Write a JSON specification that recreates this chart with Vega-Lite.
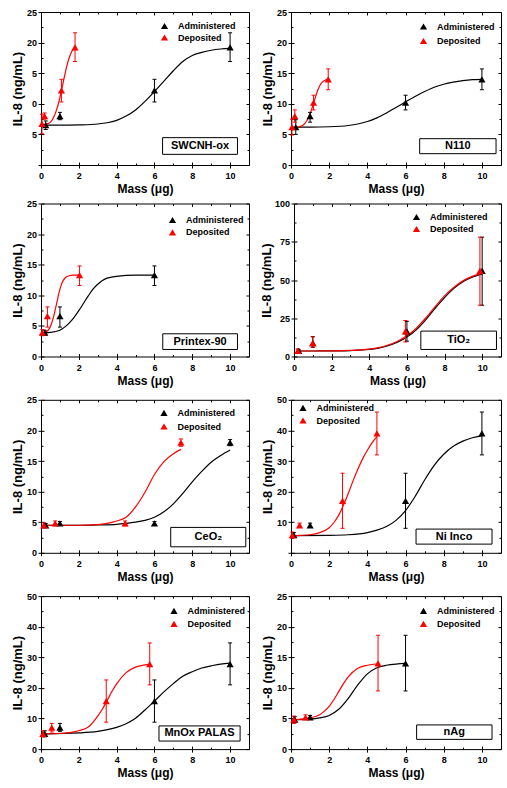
{
"$schema": "https://vega.github.io/schema/vega-lite/v6.json",
"padding": {"left": 10, "top": 7, "right": 0, "bottom": 0},
"datasets": {
"panels": [
{"panel":"SWCNH-ox","label":"SWCNH-ox"},{"panel":"N110","label":"N110"},{"panel":"Printex-90","label":"Printex-90"},{"panel":"TiO2","label":"TiO₂"},
{"panel":"CeO2","label":"CeO₂"},{"panel":"Ni Inco","label":"Ni Inco"},{"panel":"MnOx PALAS","label":"MnOx PALAS"},{"panel":"nAg","label":"nAg"}
],
"points": [
{"panel":"SWCNH-ox","series":"Administered","x":0.25,"y":6.5,"lo":5.8,"hi":7.2},
{"panel":"SWCNH-ox","series":"Administered","x":1,"y":8.0,"lo":7.4,"hi":8.6},
{"panel":"SWCNH-ox","series":"Administered","x":6,"y":12.2,"lo":10.3,"hi":14.0},
{"panel":"SWCNH-ox","series":"Administered","x":10,"y":19.2,"lo":16.9,"hi":21.6},
{"panel":"SWCNH-ox","series":"Deposited","x":0.05,"y":6.7,"lo":5.1,"hi":8.3},
{"panel":"SWCNH-ox","series":"Deposited","x":0.19,"y":8.0,"lo":7.5,"hi":8.5},
{"panel":"SWCNH-ox","series":"Deposited","x":1.08,"y":12.2,"lo":10.3,"hi":14.0},
{"panel":"SWCNH-ox","series":"Deposited","x":1.8,"y":19.2,"lo":16.9,"hi":21.6},
{"panel":"N110","series":"Administered","x":0.25,"y":6.2,"lo":5.0,"hi":7.4},
{"panel":"N110","series":"Administered","x":1,"y":8.0,"lo":7.0,"hi":8.6},
{"panel":"N110","series":"Administered","x":6,"y":10.2,"lo":9.0,"hi":11.4},
{"panel":"N110","series":"Administered","x":10,"y":14.0,"lo":12.3,"hi":15.7},
{"panel":"N110","series":"Deposited","x":0.05,"y":6.2,"lo":4.9,"hi":7.5},
{"panel":"N110","series":"Deposited","x":0.2,"y":8.0,"lo":7.0,"hi":9.0},
{"panel":"N110","series":"Deposited","x":1.18,"y":10.2,"lo":9.0,"hi":11.4},
{"panel":"N110","series":"Deposited","x":1.95,"y":14.0,"lo":12.3,"hi":15.7},
{"panel":"Printex-90","series":"Administered","x":0.2,"y":3.9,"lo":3.5,"hi":4.3},
{"panel":"Printex-90","series":"Administered","x":1,"y":6.6,"lo":4.8,"hi":8.1},
{"panel":"Printex-90","series":"Administered","x":6,"y":13.3,"lo":11.6,"hi":14.8},
{"panel":"Printex-90","series":"Deposited","x":0.07,"y":3.9,"lo":3.4,"hi":4.4},
{"panel":"Printex-90","series":"Deposited","x":0.34,"y":6.6,"lo":4.8,"hi":8.1},
{"panel":"Printex-90","series":"Deposited","x":2.04,"y":13.3,"lo":11.6,"hi":14.8},
{"panel":"TiO2","series":"Administered","x":0.25,"y":3.6,"lo":2.6,"hi":4.6},
{"panel":"TiO2","series":"Administered","x":1,"y":8.7,"lo":6,"hi":13},
{"panel":"TiO2","series":"Administered","x":6,"y":16.5,"lo":10,"hi":23},
{"panel":"TiO2","series":"Administered","x":10,"y":56,"lo":33.5,"hi":78},
{"panel":"TiO2","series":"Deposited","x":0.2,"y":3.6,"lo":2.2,"hi":5.0},
{"panel":"TiO2","series":"Deposited","x":1,"y":8.7,"lo":6,"hi":12.8},
{"panel":"TiO2","series":"Deposited","x":5.92,"y":16.5,"lo":9.5,"hi":23.5},
{"panel":"TiO2","series":"Deposited","x":9.88,"y":56,"lo":33.5,"hi":78},
{"panel":"CeO2","series":"Administered","x":0.25,"y":4.5,"lo":4.2,"hi":4.8},
{"panel":"CeO2","series":"Administered","x":1,"y":4.8,"lo":4.5,"hi":5.1},
{"panel":"CeO2","series":"Administered","x":6,"y":4.8,"lo":4.5,"hi":5.1},
{"panel":"CeO2","series":"Administered","x":10,"y":18.0,"lo":17.5,"hi":18.5},
{"panel":"CeO2","series":"Deposited","x":0.15,"y":4.5,"lo":4.1,"hi":4.9},
{"panel":"CeO2","series":"Deposited","x":0.75,"y":4.8,"lo":4.4,"hi":5.2},
{"panel":"CeO2","series":"Deposited","x":4.45,"y":4.8,"lo":4.4,"hi":5.2},
{"panel":"CeO2","series":"Deposited","x":7.4,"y":18.0,"lo":17.4,"hi":18.6},
{"panel":"Ni Inco","series":"Administered","x":0.15,"y":5.8,"lo":5.0,"hi":6.6},
{"panel":"Ni Inco","series":"Administered","x":1,"y":9.0,"lo":8.3,"hi":9.7},
{"panel":"Ni Inco","series":"Administered","x":6,"y":17,"lo":8,"hi":26},
{"panel":"Ni Inco","series":"Administered","x":10,"y":39,"lo":32,"hi":46},
{"panel":"Ni Inco","series":"Deposited","x":0.07,"y":5.8,"lo":4.8,"hi":6.8},
{"panel":"Ni Inco","series":"Deposited","x":0.45,"y":9.0,"lo":8.3,"hi":9.7},
{"panel":"Ni Inco","series":"Deposited","x":2.7,"y":17,"lo":8,"hi":26},
{"panel":"Ni Inco","series":"Deposited","x":4.5,"y":39,"lo":32,"hi":46},
{"panel":"MnOx PALAS","series":"Administered","x":0.2,"y":5.0,"lo":4.0,"hi":6.0},
{"panel":"MnOx PALAS","series":"Administered","x":1,"y":7.0,"lo":5.8,"hi":8.4},
{"panel":"MnOx PALAS","series":"Administered","x":6,"y":15.7,"lo":8.8,"hi":22.6},
{"panel":"MnOx PALAS","series":"Administered","x":10,"y":27.8,"lo":21,"hi":34.7},
{"panel":"MnOx PALAS","series":"Deposited","x":0.1,"y":5.0,"lo":4.0,"hi":6.0},
{"panel":"MnOx PALAS","series":"Deposited","x":0.57,"y":7.0,"lo":5.6,"hi":8.4},
{"panel":"MnOx PALAS","series":"Deposited","x":3.45,"y":15.7,"lo":8.8,"hi":22.6},
{"panel":"MnOx PALAS","series":"Deposited","x":5.75,"y":27.8,"lo":21,"hi":34.7},
{"panel":"nAg","series":"Administered","x":0.2,"y":4.8,"lo":4.3,"hi":5.3},
{"panel":"nAg","series":"Administered","x":1,"y":5.2,"lo":4.9,"hi":5.5},
{"panel":"nAg","series":"Administered","x":6,"y":14.0,"lo":9.5,"hi":18.6},
{"panel":"nAg","series":"Deposited","x":0.15,"y":4.8,"lo":4.2,"hi":5.4},
{"panel":"nAg","series":"Deposited","x":0.76,"y":5.2,"lo":4.8,"hi":5.6},
{"panel":"nAg","series":"Deposited","x":4.56,"y":14.0,"lo":9.5,"hi":18.6}
],
"curves": [
{"panel":"SWCNH-ox","series":"Administered","x":0.25,"y":6.5},{"panel":"SWCNH-ox","series":"Administered","x":1,"y":6.5},{"panel":"SWCNH-ox","series":"Administered","x":2,"y":6.55},{"panel":"SWCNH-ox","series":"Administered","x":3,"y":6.7},{"panel":"SWCNH-ox","series":"Administered","x":3.5,"y":6.9},{"panel":"SWCNH-ox","series":"Administered","x":4,"y":7.3},{"panel":"SWCNH-ox","series":"Administered","x":4.5,"y":8.0},{"panel":"SWCNH-ox","series":"Administered","x":5,"y":9.0},{"panel":"SWCNH-ox","series":"Administered","x":5.5,"y":10.4},{"panel":"SWCNH-ox","series":"Administered","x":6,"y":12.0},{"panel":"SWCNH-ox","series":"Administered","x":6.5,"y":13.7},{"panel":"SWCNH-ox","series":"Administered","x":7,"y":15.4},{"panel":"SWCNH-ox","series":"Administered","x":7.5,"y":16.9},{"panel":"SWCNH-ox","series":"Administered","x":8,"y":17.9},{"panel":"SWCNH-ox","series":"Administered","x":8.5,"y":18.4},{"panel":"SWCNH-ox","series":"Administered","x":9,"y":18.75},{"panel":"SWCNH-ox","series":"Administered","x":9.5,"y":18.95},{"panel":"SWCNH-ox","series":"Administered","x":10,"y":19.05},
{"panel":"SWCNH-ox","series":"Deposited","x":0.05,"y":6.6},{"panel":"SWCNH-ox","series":"Deposited","x":0.3,"y":6.7},{"panel":"SWCNH-ox","series":"Deposited","x":0.5,"y":7.0},{"panel":"SWCNH-ox","series":"Deposited","x":0.6,"y":7.4},{"panel":"SWCNH-ox","series":"Deposited","x":0.7,"y":8.0},{"panel":"SWCNH-ox","series":"Deposited","x":0.8,"y":8.8},{"panel":"SWCNH-ox","series":"Deposited","x":0.9,"y":9.8},{"panel":"SWCNH-ox","series":"Deposited","x":1.0,"y":11.0},{"panel":"SWCNH-ox","series":"Deposited","x":1.1,"y":12.4},{"panel":"SWCNH-ox","series":"Deposited","x":1.2,"y":13.9},{"panel":"SWCNH-ox","series":"Deposited","x":1.3,"y":15.3},{"panel":"SWCNH-ox","series":"Deposited","x":1.4,"y":16.6},{"panel":"SWCNH-ox","series":"Deposited","x":1.5,"y":17.6},{"panel":"SWCNH-ox","series":"Deposited","x":1.6,"y":18.4},{"panel":"SWCNH-ox","series":"Deposited","x":1.7,"y":18.9},{"panel":"SWCNH-ox","series":"Deposited","x":1.8,"y":19.3},
{"panel":"N110","series":"Administered","x":0.25,"y":6.2},{"panel":"N110","series":"Administered","x":1,"y":6.2},{"panel":"N110","series":"Administered","x":2,"y":6.25},{"panel":"N110","series":"Administered","x":3,"y":6.45},{"panel":"N110","series":"Administered","x":3.5,"y":6.7},{"panel":"N110","series":"Administered","x":4,"y":7.1},{"panel":"N110","series":"Administered","x":4.5,"y":7.7},{"panel":"N110","series":"Administered","x":5,"y":8.5},{"panel":"N110","series":"Administered","x":5.5,"y":9.4},{"panel":"N110","series":"Administered","x":6,"y":10.3},{"panel":"N110","series":"Administered","x":6.5,"y":11.2},{"panel":"N110","series":"Administered","x":7,"y":12.0},{"panel":"N110","series":"Administered","x":7.5,"y":12.7},{"panel":"N110","series":"Administered","x":8,"y":13.2},{"panel":"N110","series":"Administered","x":8.5,"y":13.55},{"panel":"N110","series":"Administered","x":9,"y":13.8},{"panel":"N110","series":"Administered","x":9.5,"y":13.95},{"panel":"N110","series":"Administered","x":10,"y":14.0},
{"panel":"N110","series":"Deposited","x":0.05,"y":6.2},{"panel":"N110","series":"Deposited","x":0.3,"y":6.2},{"panel":"N110","series":"Deposited","x":0.5,"y":6.3},{"panel":"N110","series":"Deposited","x":0.7,"y":6.7},{"panel":"N110","series":"Deposited","x":0.8,"y":7.1},{"panel":"N110","series":"Deposited","x":0.9,"y":7.7},{"panel":"N110","series":"Deposited","x":1.0,"y":8.4},{"panel":"N110","series":"Deposited","x":1.1,"y":9.3},{"panel":"N110","series":"Deposited","x":1.2,"y":10.3},{"panel":"N110","series":"Deposited","x":1.3,"y":11.3},{"panel":"N110","series":"Deposited","x":1.4,"y":12.2},{"panel":"N110","series":"Deposited","x":1.5,"y":12.9},{"panel":"N110","series":"Deposited","x":1.6,"y":13.4},{"panel":"N110","series":"Deposited","x":1.7,"y":13.7},{"panel":"N110","series":"Deposited","x":1.8,"y":13.9},{"panel":"N110","series":"Deposited","x":1.95,"y":14.0},
{"panel":"Printex-90","series":"Administered","x":0.2,"y":3.9},{"panel":"Printex-90","series":"Administered","x":0.5,"y":3.95},{"panel":"Printex-90","series":"Administered","x":1.0,"y":4.3},{"panel":"Printex-90","series":"Administered","x":1.25,"y":4.8},{"panel":"Printex-90","series":"Administered","x":1.5,"y":5.5},{"panel":"Printex-90","series":"Administered","x":1.75,"y":6.4},{"panel":"Printex-90","series":"Administered","x":2.0,"y":7.5},{"panel":"Printex-90","series":"Administered","x":2.25,"y":8.7},{"panel":"Printex-90","series":"Administered","x":2.5,"y":9.9},{"panel":"Printex-90","series":"Administered","x":2.75,"y":11.0},{"panel":"Printex-90","series":"Administered","x":3.0,"y":11.8},{"panel":"Printex-90","series":"Administered","x":3.25,"y":12.4},{"panel":"Printex-90","series":"Administered","x":3.5,"y":12.8},{"panel":"Printex-90","series":"Administered","x":4.0,"y":13.1},{"panel":"Printex-90","series":"Administered","x":4.5,"y":13.25},{"panel":"Printex-90","series":"Administered","x":5,"y":13.3},{"panel":"Printex-90","series":"Administered","x":6,"y":13.3},
{"panel":"Printex-90","series":"Deposited","x":0.07,"y":3.9},{"panel":"Printex-90","series":"Deposited","x":0.3,"y":4.1},{"panel":"Printex-90","series":"Deposited","x":0.45,"y":4.6},{"panel":"Printex-90","series":"Deposited","x":0.55,"y":5.3},{"panel":"Printex-90","series":"Deposited","x":0.65,"y":6.3},{"panel":"Printex-90","series":"Deposited","x":0.75,"y":7.6},{"panel":"Printex-90","series":"Deposited","x":0.85,"y":9.0},{"panel":"Printex-90","series":"Deposited","x":0.95,"y":10.4},{"panel":"Printex-90","series":"Deposited","x":1.05,"y":11.5},{"panel":"Printex-90","series":"Deposited","x":1.15,"y":12.3},{"panel":"Printex-90","series":"Deposited","x":1.3,"y":12.9},{"panel":"Printex-90","series":"Deposited","x":1.5,"y":13.2},{"panel":"Printex-90","series":"Deposited","x":1.75,"y":13.3},{"panel":"Printex-90","series":"Deposited","x":2.04,"y":13.35},
{"panel":"TiO2","series":"Administered","x":0.2,"y":3.6},{"panel":"TiO2","series":"Administered","x":1,"y":3.6},{"panel":"TiO2","series":"Administered","x":2,"y":3.7},{"panel":"TiO2","series":"Administered","x":3,"y":3.9},{"panel":"TiO2","series":"Administered","x":4,"y":4.6},{"panel":"TiO2","series":"Administered","x":4.5,"y":5.5},{"panel":"TiO2","series":"Administered","x":5,"y":7.0},{"panel":"TiO2","series":"Administered","x":5.5,"y":9.3},{"panel":"TiO2","series":"Administered","x":6,"y":12.7},{"panel":"TiO2","series":"Administered","x":6.5,"y":17.5},{"panel":"TiO2","series":"Administered","x":7,"y":24.0},{"panel":"TiO2","series":"Administered","x":7.5,"y":31.5},{"panel":"TiO2","series":"Administered","x":8,"y":38.5},{"panel":"TiO2","series":"Administered","x":8.5,"y":44.5},{"panel":"TiO2","series":"Administered","x":9,"y":49.0},{"panel":"TiO2","series":"Administered","x":9.5,"y":52.0},{"panel":"TiO2","series":"Administered","x":10,"y":54.0},
{"panel":"TiO2","series":"Deposited","x":0.1,"y":3.6},{"panel":"TiO2","series":"Deposited","x":1,"y":3.6},{"panel":"TiO2","series":"Deposited","x":2,"y":3.7},{"panel":"TiO2","series":"Deposited","x":3,"y":3.95},{"panel":"TiO2","series":"Deposited","x":4,"y":4.8},{"panel":"TiO2","series":"Deposited","x":4.5,"y":5.8},{"panel":"TiO2","series":"Deposited","x":5,"y":7.5},{"panel":"TiO2","series":"Deposited","x":5.5,"y":10.0},{"panel":"TiO2","series":"Deposited","x":6,"y":13.5},{"panel":"TiO2","series":"Deposited","x":6.5,"y":18.5},{"panel":"TiO2","series":"Deposited","x":7,"y":25.2},{"panel":"TiO2","series":"Deposited","x":7.5,"y":32.6},{"panel":"TiO2","series":"Deposited","x":8,"y":39.6},{"panel":"TiO2","series":"Deposited","x":8.5,"y":45.3},{"panel":"TiO2","series":"Deposited","x":9,"y":49.6},{"panel":"TiO2","series":"Deposited","x":9.5,"y":52.5},{"panel":"TiO2","series":"Deposited","x":9.9,"y":54.2},
{"panel":"CeO2","series":"Administered","x":0.2,"y":4.5},{"panel":"CeO2","series":"Administered","x":2,"y":4.5},{"panel":"CeO2","series":"Administered","x":3,"y":4.55},{"panel":"CeO2","series":"Administered","x":4,"y":4.65},{"panel":"CeO2","series":"Administered","x":4.5,"y":4.8},{"panel":"CeO2","series":"Administered","x":5,"y":5.0},{"panel":"CeO2","series":"Administered","x":5.5,"y":5.3},{"panel":"CeO2","series":"Administered","x":6,"y":5.8},{"panel":"CeO2","series":"Administered","x":6.5,"y":6.7},{"panel":"CeO2","series":"Administered","x":7,"y":8.0},{"panel":"CeO2","series":"Administered","x":7.5,"y":9.7},{"panel":"CeO2","series":"Administered","x":8,"y":11.6},{"panel":"CeO2","series":"Administered","x":8.5,"y":13.3},{"panel":"CeO2","series":"Administered","x":9,"y":14.8},{"panel":"CeO2","series":"Administered","x":9.5,"y":15.9},{"panel":"CeO2","series":"Administered","x":10,"y":16.8},
{"panel":"CeO2","series":"Deposited","x":0.1,"y":4.5},{"panel":"CeO2","series":"Deposited","x":2,"y":4.5},{"panel":"CeO2","series":"Deposited","x":3,"y":4.6},{"panel":"CeO2","series":"Deposited","x":3.5,"y":4.8},{"panel":"CeO2","series":"Deposited","x":4,"y":5.2},{"panel":"CeO2","series":"Deposited","x":4.5,"y":5.8},{"panel":"CeO2","series":"Deposited","x":5,"y":7.5},{"panel":"CeO2","series":"Deposited","x":5.5,"y":9.9},{"panel":"CeO2","series":"Deposited","x":6,"y":12.8},{"panel":"CeO2","series":"Deposited","x":6.5,"y":14.9},{"panel":"CeO2","series":"Deposited","x":7,"y":16.2},{"panel":"CeO2","series":"Deposited","x":7.4,"y":16.9},
{"panel":"Ni Inco","series":"Administered","x":0.15,"y":5.6},{"panel":"Ni Inco","series":"Administered","x":2,"y":5.7},{"panel":"Ni Inco","series":"Administered","x":3,"y":5.9},{"panel":"Ni Inco","series":"Administered","x":4,"y":6.6},{"panel":"Ni Inco","series":"Administered","x":4.5,"y":7.4},{"panel":"Ni Inco","series":"Administered","x":5,"y":8.6},{"panel":"Ni Inco","series":"Administered","x":5.5,"y":10.6},{"panel":"Ni Inco","series":"Administered","x":6,"y":13.8},{"panel":"Ni Inco","series":"Administered","x":6.5,"y":18.4},{"panel":"Ni Inco","series":"Administered","x":7,"y":23.8},{"panel":"Ni Inco","series":"Administered","x":7.5,"y":28.6},{"panel":"Ni Inco","series":"Administered","x":8,"y":32.2},{"panel":"Ni Inco","series":"Administered","x":8.5,"y":34.8},{"panel":"Ni Inco","series":"Administered","x":9,"y":36.5},{"panel":"Ni Inco","series":"Administered","x":9.5,"y":37.6},{"panel":"Ni Inco","series":"Administered","x":10,"y":38.3},
{"panel":"Ni Inco","series":"Deposited","x":0.07,"y":5.6},{"panel":"Ni Inco","series":"Deposited","x":0.5,"y":5.7},{"panel":"Ni Inco","series":"Deposited","x":1.0,"y":5.9},{"panel":"Ni Inco","series":"Deposited","x":1.5,"y":6.6},{"panel":"Ni Inco","series":"Deposited","x":2.0,"y":8.2},{"panel":"Ni Inco","series":"Deposited","x":2.25,"y":9.9},{"panel":"Ni Inco","series":"Deposited","x":2.5,"y":12.3},{"panel":"Ni Inco","series":"Deposited","x":2.75,"y":15.6},{"panel":"Ni Inco","series":"Deposited","x":3.0,"y":19.4},{"panel":"Ni Inco","series":"Deposited","x":3.25,"y":23.5},{"panel":"Ni Inco","series":"Deposited","x":3.5,"y":27.3},{"panel":"Ni Inco","series":"Deposited","x":3.75,"y":30.7},{"panel":"Ni Inco","series":"Deposited","x":4.0,"y":33.5},{"panel":"Ni Inco","series":"Deposited","x":4.25,"y":36.0},{"panel":"Ni Inco","series":"Deposited","x":4.5,"y":38.0},
{"panel":"MnOx PALAS","series":"Administered","x":0.2,"y":5.0},{"panel":"MnOx PALAS","series":"Administered","x":2,"y":5.3},{"panel":"MnOx PALAS","series":"Administered","x":3,"y":5.8},{"panel":"MnOx PALAS","series":"Administered","x":4,"y":7.1},{"panel":"MnOx PALAS","series":"Administered","x":4.5,"y":8.3},{"panel":"MnOx PALAS","series":"Administered","x":5,"y":10.1},{"panel":"MnOx PALAS","series":"Administered","x":5.5,"y":12.8},{"panel":"MnOx PALAS","series":"Administered","x":6,"y":15.7},{"panel":"MnOx PALAS","series":"Administered","x":6.5,"y":18.7},{"panel":"MnOx PALAS","series":"Administered","x":7,"y":21.4},{"panel":"MnOx PALAS","series":"Administered","x":7.5,"y":23.8},{"panel":"MnOx PALAS","series":"Administered","x":8,"y":25.3},{"panel":"MnOx PALAS","series":"Administered","x":8.5,"y":26.5},{"panel":"MnOx PALAS","series":"Administered","x":9,"y":27.2},{"panel":"MnOx PALAS","series":"Administered","x":9.5,"y":27.8},{"panel":"MnOx PALAS","series":"Administered","x":10,"y":28.1},
{"panel":"MnOx PALAS","series":"Deposited","x":0.1,"y":5.0},{"panel":"MnOx PALAS","series":"Deposited","x":1,"y":5.1},{"panel":"MnOx PALAS","series":"Deposited","x":2,"y":6.0},{"panel":"MnOx PALAS","series":"Deposited","x":2.5,"y":7.2},{"panel":"MnOx PALAS","series":"Deposited","x":3,"y":10.8},{"panel":"MnOx PALAS","series":"Deposited","x":3.25,"y":13.1},{"panel":"MnOx PALAS","series":"Deposited","x":3.5,"y":15.9},{"panel":"MnOx PALAS","series":"Deposited","x":3.75,"y":18.8},{"panel":"MnOx PALAS","series":"Deposited","x":4,"y":21.3},{"panel":"MnOx PALAS","series":"Deposited","x":4.5,"y":25.0},{"panel":"MnOx PALAS","series":"Deposited","x":5,"y":26.8},{"panel":"MnOx PALAS","series":"Deposited","x":5.5,"y":27.5},{"panel":"MnOx PALAS","series":"Deposited","x":5.75,"y":27.7},
{"panel":"nAg","series":"Administered","x":0.2,"y":4.8},{"panel":"nAg","series":"Administered","x":1,"y":4.9},{"panel":"nAg","series":"Administered","x":1.5,"y":5.1},{"panel":"nAg","series":"Administered","x":2,"y":5.5},{"panel":"nAg","series":"Administered","x":2.5,"y":6.5},{"panel":"nAg","series":"Administered","x":3,"y":8.3},{"panel":"nAg","series":"Administered","x":3.5,"y":10.5},{"panel":"nAg","series":"Administered","x":4,"y":12.3},{"panel":"nAg","series":"Administered","x":4.5,"y":13.3},{"panel":"nAg","series":"Administered","x":5,"y":13.7},{"panel":"nAg","series":"Administered","x":5.5,"y":13.9},{"panel":"nAg","series":"Administered","x":6,"y":14.0},
{"panel":"nAg","series":"Deposited","x":0.15,"y":4.8},{"panel":"nAg","series":"Deposited","x":1,"y":5.1},{"panel":"nAg","series":"Deposited","x":1.5,"y":5.6},{"panel":"nAg","series":"Deposited","x":1.75,"y":6.2},{"panel":"nAg","series":"Deposited","x":2,"y":7.0},{"panel":"nAg","series":"Deposited","x":2.25,"y":8.1},{"panel":"nAg","series":"Deposited","x":2.5,"y":9.4},{"panel":"nAg","series":"Deposited","x":2.75,"y":10.7},{"panel":"nAg","series":"Deposited","x":3,"y":11.8},{"panel":"nAg","series":"Deposited","x":3.5,"y":13.2},{"panel":"nAg","series":"Deposited","x":4,"y":13.7},{"panel":"nAg","series":"Deposited","x":4.56,"y":13.95}
]
},
"spacing": 3.5,
"resolve": {"scale": {"color": "independent", "stroke": "independent", "x": "independent", "y": "independent"}, "legend": {"color": "independent"}, "axis": {"x": "independent", "y": "independent"}},
"vconcat": [
{"hconcat": [
{"width": 208, "height": 153, "resolve": {"axis": {"x": "independent", "y": "independent"}}, "layer": [
{"data": {"name": "curves"}, "transform": [{"filter": "datum.panel === 'SWCNH-ox'"}], "mark": {"type": "line", "interpolate": "monotone", "strokeWidth": 1.2},
 "encoding": {"x": {"field": "x", "type": "quantitative", "scale": {"domain": [0, 11], "nice": false}, "axis": {"orient": "bottom", "title": "Mass (μg)", "labels": true, "values": [0,2,4,6,8,10], "tickSize": 3, "minExtent": 15.5, "maxExtent": 15.5, "titlePadding": 3}},
  "y": {"field": "y", "type": "quantitative", "scale": {"domain": [0, 25], "nice": false}, "axis": {"orient": "left", "title": "IL-8 (ng/mL)", "labels": true, "values": [0,5,10,15,20,25], "tickSize": 3, "minExtent": 14.5, "maxExtent": 14.5, "titlePadding": 2.5, "labelExpr": "datum.value == 15 ? '5' : datum.value == 10 ? '0' : datum.value == 0 ? '' : datum.label"}},
  "stroke": {"field": "series", "type": "nominal", "scale": {"range": ["#000000", "#ff0000"]}, "legend": null}}},
{"data": {"name": "points"}, "transform": [{"filter": "datum.panel === 'SWCNH-ox'"}], "mark": {"type": "rule", "strokeWidth": 1},
 "encoding": {"x": {"field": "x", "type": "quantitative", "scale": {"domain": [0, 11], "nice": false}, "axis": {"orient": "bottom", "title": null, "values": [0,2,4,6,8,10], "tickSize": -3}},
  "y": {"field": "lo", "type": "quantitative", "scale": {"domain": [0, 25], "nice": false}, "axis": {"orient": "left", "title": null, "values": [0,5,10,15,20,25], "tickSize": -3}},
  "y2": {"field": "hi"},
  "stroke": {"field": "series", "type": "nominal", "scale": {"range": ["#000000", "#ff0000"]}, "legend": null}}},
{"data": {"name": "points"}, "transform": [{"filter": "datum.panel === 'SWCNH-ox'"}, {"fold": ["lo", "hi"], "as": ["end", "v"]}], "mark": {"type": "point", "shape": "M-1,0L1,0", "size": 16, "filled": false, "opacity": 1, "strokeWidth": 1},
 "encoding": {"x": {"field": "x", "type": "quantitative", "scale": {"domain": [0, 11], "nice": false}, "axis": {"orient": "bottom", "title": null, "values": [1,3,5,7,9], "tickSize": -2}},
  "y": {"field": "v", "type": "quantitative", "scale": {"domain": [0, 25], "nice": false}, "axis": {"orient": "left", "title": null, "values": [2.5,7.5,12.5,17.5,22.5], "tickSize": -2}},
  "stroke": {"field": "series", "type": "nominal", "scale": {"range": ["#000000", "#ff0000"]}, "legend": null}}},
{"data": {"name": "points"}, "transform": [{"filter": "datum.panel === 'SWCNH-ox'"}], "mark": {"type": "point", "shape": "triangle-up", "filled": true, "size": 52, "opacity": 1},
 "encoding": {"x": {"field": "x", "type": "quantitative", "scale": {"domain": [0, 11], "nice": false}, "axis": {"orient": "top", "title": null, "values": [0,2,4,6,8,10], "tickSize": -3}},
  "y": {"field": "y", "type": "quantitative", "scale": {"domain": [0, 25], "nice": false}, "axis": {"orient": "right", "title": null, "values": [0,5,10,15,20,25], "tickSize": -3}},
  "color": {"field": "series", "type": "nominal", "scale": {"domain": ["Administered", "Deposited"], "range": ["#000000", "#ff0000"]}, "legend": {"orient": "none", "legendX": 119, "legendY": 9.5, "title": null, "rowPadding": 1.5}}}},
{"data": {"name": "panels"}, "transform": [{"filter": "datum.panel === 'SWCNH-ox'"}], "mark": {"type": "rect", "fill": "#ffffff", "stroke": "#000000", "strokeWidth": 1},
 "encoding": {"x": {"datum": 6.43, "type": "quantitative", "scale": {"domain": [0, 11], "nice": false}, "axis": {"orient": "top", "title": null, "values": [1,3,5,7,9], "tickSize": -2}}, "x2": {"datum": 10.39},
  "y": {"datum": 4.47, "type": "quantitative", "scale": {"domain": [0, 25], "nice": false}, "axis": {"orient": "right", "title": null, "values": [2.5,7.5,12.5,17.5,22.5], "tickSize": -2}}, "y2": {"datum": 1.74}}},
{"data": {"name": "panels"}, "transform": [{"filter": "datum.panel === 'SWCNH-ox'"}], "mark": {"type": "text", "font": "Liberation Sans", "fontSize": 11, "fontWeight": "bold", "color": "#000000", "align": "center", "baseline": "middle"},
 "encoding": {"x": {"datum": 8.41, "type": "quantitative", "scale": {"domain": [0, 11], "nice": false}, "axis": null}, "y": {"datum": 3.1, "type": "quantitative", "scale": {"domain": [0, 25], "nice": false}, "axis": null}, "text": {"field": "label"}}}
]},
{"width": 210, "height": 153, "resolve": {"axis": {"x": "independent", "y": "independent"}}, "layer": [
{"data": {"name": "curves"}, "transform": [{"filter": "datum.panel === 'N110'"}], "mark": {"type": "line", "interpolate": "monotone", "strokeWidth": 1.2},
 "encoding": {"x": {"field": "x", "type": "quantitative", "scale": {"domain": [0, 11], "nice": false}, "axis": {"orient": "bottom", "title": "Mass (μg)", "labels": true, "values": [0,2,4,6,8,10], "tickSize": 3, "minExtent": 15.5, "maxExtent": 15.5, "titlePadding": 3}},
  "y": {"field": "y", "type": "quantitative", "scale": {"domain": [0, 25], "nice": false}, "axis": {"orient": "left", "title": "IL-8 (ng/mL)", "labels": true, "values": [0,5,10,15,20,25], "tickSize": 3, "minExtent": 14.5, "maxExtent": 14.5, "titlePadding": 2.5}},
  "stroke": {"field": "series", "type": "nominal", "scale": {"range": ["#000000", "#ff0000"]}, "legend": null}}},
{"data": {"name": "points"}, "transform": [{"filter": "datum.panel === 'N110'"}], "mark": {"type": "rule", "strokeWidth": 1},
 "encoding": {"x": {"field": "x", "type": "quantitative", "scale": {"domain": [0, 11], "nice": false}, "axis": {"orient": "bottom", "title": null, "values": [0,2,4,6,8,10], "tickSize": -3}},
  "y": {"field": "lo", "type": "quantitative", "scale": {"domain": [0, 25], "nice": false}, "axis": {"orient": "left", "title": null, "values": [0,5,10,15,20,25], "tickSize": -3}},
  "y2": {"field": "hi"},
  "stroke": {"field": "series", "type": "nominal", "scale": {"range": ["#000000", "#ff0000"]}, "legend": null}}},
{"data": {"name": "points"}, "transform": [{"filter": "datum.panel === 'N110'"}, {"fold": ["lo", "hi"], "as": ["end", "v"]}], "mark": {"type": "point", "shape": "M-1,0L1,0", "size": 16, "filled": false, "opacity": 1, "strokeWidth": 1},
 "encoding": {"x": {"field": "x", "type": "quantitative", "scale": {"domain": [0, 11], "nice": false}, "axis": {"orient": "bottom", "title": null, "values": [1,3,5,7,9], "tickSize": -2}},
  "y": {"field": "v", "type": "quantitative", "scale": {"domain": [0, 25], "nice": false}, "axis": {"orient": "left", "title": null, "values": [2.5,7.5,12.5,17.5,22.5], "tickSize": -2}},
  "stroke": {"field": "series", "type": "nominal", "scale": {"range": ["#000000", "#ff0000"]}, "legend": null}}},
{"data": {"name": "points"}, "transform": [{"filter": "datum.panel === 'N110'"}], "mark": {"type": "point", "shape": "triangle-up", "filled": true, "size": 52, "opacity": 1},
 "encoding": {"x": {"field": "x", "type": "quantitative", "scale": {"domain": [0, 11], "nice": false}, "axis": {"orient": "top", "title": null, "values": [0,2,4,6,8,10], "tickSize": -3}},
  "y": {"field": "y", "type": "quantitative", "scale": {"domain": [0, 25], "nice": false}, "axis": {"orient": "right", "title": null, "values": [0,5,10,15,20,25], "tickSize": -3}},
  "color": {"field": "series", "type": "nominal", "scale": {"domain": ["Administered", "Deposited"], "range": ["#000000", "#ff0000"]}, "legend": {"orient": "none", "legendX": 128, "legendY": 10, "title": null, "rowPadding": 4.5}}}},
{"data": {"name": "panels"}, "transform": [{"filter": "datum.panel === 'N110'"}], "mark": {"type": "rect", "fill": "#ffffff", "stroke": "#000000", "strokeWidth": 1},
 "encoding": {"x": {"datum": 6.74, "type": "quantitative", "scale": {"domain": [0, 11], "nice": false}, "axis": {"orient": "top", "title": null, "values": [1,3,5,7,9], "tickSize": -2}}, "x2": {"datum": 10.74},
  "y": {"datum": 4.3, "type": "quantitative", "scale": {"domain": [0, 25], "nice": false}, "axis": {"orient": "right", "title": null, "values": [2.5,7.5,12.5,17.5,22.5], "tickSize": -2}}, "y2": {"datum": 1.85}}},
{"data": {"name": "panels"}, "transform": [{"filter": "datum.panel === 'N110'"}], "mark": {"type": "text", "font": "Liberation Sans", "fontSize": 11, "fontWeight": "bold", "color": "#000000", "align": "center", "baseline": "middle"},
 "encoding": {"x": {"datum": 8.74, "type": "quantitative", "scale": {"domain": [0, 11], "nice": false}, "axis": null}, "y": {"datum": 3.07, "type": "quantitative", "scale": {"domain": [0, 25], "nice": false}, "axis": null}, "text": {"field": "label"}}}
]}
], "spacing": 10, "resolve": {"scale": {"color": "independent", "stroke": "independent"}, "legend": {"color": "independent"}}},
{"vconcat": [
{"hconcat": [
{"width": 208, "height": 153, "resolve": {"axis": {"x": "independent", "y": "independent"}}, "layer": [
{"data": {"name": "curves"}, "transform": [{"filter": "datum.panel === 'Printex-90'"}], "mark": {"type": "line", "interpolate": "monotone", "strokeWidth": 1.2},
 "encoding": {"x": {"field": "x", "type": "quantitative", "scale": {"domain": [0, 11], "nice": false}, "axis": {"orient": "bottom", "title": "Mass (μg)", "labels": true, "values": [0,2,4,6,8,10], "tickSize": 3, "minExtent": 15.5, "maxExtent": 15.5, "titlePadding": 3}},
  "y": {"field": "y", "type": "quantitative", "scale": {"domain": [0, 25], "nice": false}, "axis": {"orient": "left", "title": "IL-8 (ng/mL)", "labels": true, "values": [0,5,10,15,20,25], "tickSize": 3, "minExtent": 14.5, "maxExtent": 14.5, "titlePadding": 2.5}},
  "stroke": {"field": "series", "type": "nominal", "scale": {"range": ["#000000", "#ff0000"]}, "legend": null}}},
{"data": {"name": "points"}, "transform": [{"filter": "datum.panel === 'Printex-90'"}], "mark": {"type": "rule", "strokeWidth": 1},
 "encoding": {"x": {"field": "x", "type": "quantitative", "scale": {"domain": [0, 11], "nice": false}, "axis": {"orient": "bottom", "title": null, "values": [0,2,4,6,8,10], "tickSize": -3}},
  "y": {"field": "lo", "type": "quantitative", "scale": {"domain": [0, 25], "nice": false}, "axis": {"orient": "left", "title": null, "values": [0,5,10,15,20,25], "tickSize": -3}},
  "y2": {"field": "hi"},
  "stroke": {"field": "series", "type": "nominal", "scale": {"range": ["#000000", "#ff0000"]}, "legend": null}}},
{"data": {"name": "points"}, "transform": [{"filter": "datum.panel === 'Printex-90'"}, {"fold": ["lo", "hi"], "as": ["end", "v"]}], "mark": {"type": "point", "shape": "M-1,0L1,0", "size": 16, "filled": false, "opacity": 1, "strokeWidth": 1},
 "encoding": {"x": {"field": "x", "type": "quantitative", "scale": {"domain": [0, 11], "nice": false}, "axis": {"orient": "bottom", "title": null, "values": [1,3,5,7,9], "tickSize": -2}},
  "y": {"field": "v", "type": "quantitative", "scale": {"domain": [0, 25], "nice": false}, "axis": {"orient": "left", "title": null, "values": [2.5,7.5,12.5,17.5,22.5], "tickSize": -2}},
  "stroke": {"field": "series", "type": "nominal", "scale": {"range": ["#000000", "#ff0000"]}, "legend": null}}},
{"data": {"name": "points"}, "transform": [{"filter": "datum.panel === 'Printex-90'"}], "mark": {"type": "point", "shape": "triangle-up", "filled": true, "size": 52, "opacity": 1},
 "encoding": {"x": {"field": "x", "type": "quantitative", "scale": {"domain": [0, 11], "nice": false}, "axis": {"orient": "top", "title": null, "values": [0,2,4,6,8,10], "tickSize": -3}},
  "y": {"field": "y", "type": "quantitative", "scale": {"domain": [0, 25], "nice": false}, "axis": {"orient": "right", "title": null, "values": [0,5,10,15,20,25], "tickSize": -3}},
  "color": {"field": "series", "type": "nominal", "scale": {"domain": ["Administered", "Deposited"], "range": ["#000000", "#ff0000"]}, "legend": {"orient": "none", "legendX": 127, "legendY": 12, "title": null, "rowPadding": 2.4}}}},
{"data": {"name": "panels"}, "transform": [{"filter": "datum.panel === 'Printex-90'"}], "mark": {"type": "rect", "fill": "#ffffff", "stroke": "#000000", "strokeWidth": 1},
 "encoding": {"x": {"datum": 6.44, "type": "quantitative", "scale": {"domain": [0, 11], "nice": false}, "axis": {"orient": "top", "title": null, "values": [1,3,5,7,9], "tickSize": -2}}, "x2": {"datum": 10.39},
  "y": {"datum": 3.71, "type": "quantitative", "scale": {"domain": [0, 25], "nice": false}, "axis": {"orient": "right", "title": null, "values": [2.5,7.5,12.5,17.5,22.5], "tickSize": -2}}, "y2": {"datum": 1.15}}},
{"data": {"name": "panels"}, "transform": [{"filter": "datum.panel === 'Printex-90'"}], "mark": {"type": "text", "font": "Liberation Sans", "fontSize": 11, "fontWeight": "bold", "color": "#000000", "align": "center", "baseline": "middle"},
 "encoding": {"x": {"datum": 8.41, "type": "quantitative", "scale": {"domain": [0, 11], "nice": false}, "axis": null}, "y": {"datum": 2.43, "type": "quantitative", "scale": {"domain": [0, 25], "nice": false}, "axis": null}, "text": {"field": "label"}}}
]},
{"width": 207, "height": 153, "resolve": {"axis": {"x": "independent", "y": "independent"}}, "layer": [
{"data": {"name": "curves"}, "transform": [{"filter": "datum.panel === 'TiO2'"}], "mark": {"type": "line", "interpolate": "monotone", "strokeWidth": 1.2},
 "encoding": {"x": {"field": "x", "type": "quantitative", "scale": {"domain": [0, 11], "nice": false}, "axis": {"orient": "bottom", "title": "Mass (μg)", "labels": true, "values": [0,2,4,6,8,10], "tickSize": 3, "minExtent": 15.5, "maxExtent": 15.5, "titlePadding": 3}},
  "y": {"field": "y", "type": "quantitative", "scale": {"domain": [0, 100], "nice": false}, "axis": {"orient": "left", "title": "IL-8 (ng/mL)", "labels": true, "values": [0,25,50,75,100], "tickSize": 3, "minExtent": 19.5, "maxExtent": 19.5, "titlePadding": 1}},
  "stroke": {"field": "series", "type": "nominal", "scale": {"range": ["#000000", "#ff0000"]}, "legend": null}}},
{"data": {"name": "points"}, "transform": [{"filter": "datum.panel === 'TiO2'"}], "mark": {"type": "rule", "strokeWidth": 1},
 "encoding": {"x": {"field": "x", "type": "quantitative", "scale": {"domain": [0, 11], "nice": false}, "axis": {"orient": "bottom", "title": null, "values": [0,2,4,6,8,10], "tickSize": -3}},
  "y": {"field": "lo", "type": "quantitative", "scale": {"domain": [0, 100], "nice": false}, "axis": {"orient": "left", "title": null, "values": [0,25,50,75,100], "tickSize": -3}},
  "y2": {"field": "hi"},
  "stroke": {"field": "series", "type": "nominal", "scale": {"range": ["#000000", "#ff0000"]}, "legend": null}}},
{"data": {"name": "points"}, "transform": [{"filter": "datum.panel === 'TiO2'"}, {"fold": ["lo", "hi"], "as": ["end", "v"]}], "mark": {"type": "point", "shape": "M-1,0L1,0", "size": 16, "filled": false, "opacity": 1, "strokeWidth": 1},
 "encoding": {"x": {"field": "x", "type": "quantitative", "scale": {"domain": [0, 11], "nice": false}, "axis": {"orient": "bottom", "title": null, "values": [1,3,5,7,9], "tickSize": -2}},
  "y": {"field": "v", "type": "quantitative", "scale": {"domain": [0, 100], "nice": false}, "axis": {"orient": "left", "title": null, "values": [12.5,37.5,62.5,87.5], "tickSize": -2}},
  "stroke": {"field": "series", "type": "nominal", "scale": {"range": ["#000000", "#ff0000"]}, "legend": null}}},
{"data": {"name": "points"}, "transform": [{"filter": "datum.panel === 'TiO2'"}], "mark": {"type": "point", "shape": "triangle-up", "filled": true, "size": 52, "opacity": 1},
 "encoding": {"x": {"field": "x", "type": "quantitative", "scale": {"domain": [0, 11], "nice": false}, "axis": {"orient": "top", "title": null, "values": [0,2,4,6,8,10], "tickSize": -3}},
  "y": {"field": "y", "type": "quantitative", "scale": {"domain": [0, 100], "nice": false}, "axis": {"orient": "right", "title": null, "values": [0,25,50,75,100], "tickSize": -3}},
  "color": {"field": "series", "type": "nominal", "scale": {"domain": ["Administered", "Deposited"], "range": ["#000000", "#ff0000"]}, "legend": {"orient": "none", "legendX": 118, "legendY": 9, "title": null, "rowPadding": 2}}}},
{"data": {"name": "panels"}, "transform": [{"filter": "datum.panel === 'TiO2'"}], "mark": {"type": "rect", "fill": "#ffffff", "stroke": "#000000", "strokeWidth": 1},
 "encoding": {"x": {"datum": 6.74, "type": "quantitative", "scale": {"domain": [0, 11], "nice": false}, "axis": {"orient": "top", "title": null, "values": [1,3,5,7,9], "tickSize": -2}}, "x2": {"datum": 10.76},
  "y": {"datum": 16.6, "type": "quantitative", "scale": {"domain": [0, 100], "nice": false}, "axis": {"orient": "right", "title": null, "values": [12.5,37.5,62.5,87.5], "tickSize": -2}}, "y2": {"datum": 4.6}}},
{"data": {"name": "panels"}, "transform": [{"filter": "datum.panel === 'TiO2'"}], "mark": {"type": "text", "font": "Liberation Sans", "fontSize": 11, "fontWeight": "bold", "color": "#000000", "align": "center", "baseline": "middle"},
 "encoding": {"x": {"datum": 8.75, "type": "quantitative", "scale": {"domain": [0, 11], "nice": false}, "axis": null}, "y": {"datum": 10.6, "type": "quantitative", "scale": {"domain": [0, 100], "nice": false}, "axis": null}, "text": {"field": "label"}}}
]}
], "spacing": 10, "resolve": {"scale": {"color": "independent", "stroke": "independent"}, "legend": {"color": "independent"}}},
{"hconcat": [
{"width": 208, "height": 153, "resolve": {"axis": {"x": "independent", "y": "independent"}}, "layer": [
{"data": {"name": "curves"}, "transform": [{"filter": "datum.panel === 'CeO2'"}], "mark": {"type": "line", "interpolate": "monotone", "strokeWidth": 1.2},
 "encoding": {"x": {"field": "x", "type": "quantitative", "scale": {"domain": [0, 11], "nice": false}, "axis": {"orient": "bottom", "title": "Mass (μg)", "labels": true, "values": [0,2,4,6,8,10], "tickSize": 3, "minExtent": 15.5, "maxExtent": 15.5, "titlePadding": 3}},
  "y": {"field": "y", "type": "quantitative", "scale": {"domain": [0, 25], "nice": false}, "axis": {"orient": "left", "title": "IL-8 (ng/mL)", "labels": true, "values": [0,5,10,15,20,25], "tickSize": 3, "minExtent": 14.5, "maxExtent": 14.5, "titlePadding": 2.5}},
  "stroke": {"field": "series", "type": "nominal", "scale": {"range": ["#000000", "#ff0000"]}, "legend": null}}},
{"data": {"name": "points"}, "transform": [{"filter": "datum.panel === 'CeO2'"}], "mark": {"type": "rule", "strokeWidth": 1},
 "encoding": {"x": {"field": "x", "type": "quantitative", "scale": {"domain": [0, 11], "nice": false}, "axis": {"orient": "bottom", "title": null, "values": [0,2,4,6,8,10], "tickSize": -3}},
  "y": {"field": "lo", "type": "quantitative", "scale": {"domain": [0, 25], "nice": false}, "axis": {"orient": "left", "title": null, "values": [0,5,10,15,20,25], "tickSize": -3}},
  "y2": {"field": "hi"},
  "stroke": {"field": "series", "type": "nominal", "scale": {"range": ["#000000", "#ff0000"]}, "legend": null}}},
{"data": {"name": "points"}, "transform": [{"filter": "datum.panel === 'CeO2'"}, {"fold": ["lo", "hi"], "as": ["end", "v"]}], "mark": {"type": "point", "shape": "M-1,0L1,0", "size": 16, "filled": false, "opacity": 1, "strokeWidth": 1},
 "encoding": {"x": {"field": "x", "type": "quantitative", "scale": {"domain": [0, 11], "nice": false}, "axis": {"orient": "bottom", "title": null, "values": [1,3,5,7,9], "tickSize": -2}},
  "y": {"field": "v", "type": "quantitative", "scale": {"domain": [0, 25], "nice": false}, "axis": {"orient": "left", "title": null, "values": [2.5,7.5,12.5,17.5,22.5], "tickSize": -2}},
  "stroke": {"field": "series", "type": "nominal", "scale": {"range": ["#000000", "#ff0000"]}, "legend": null}}},
{"data": {"name": "points"}, "transform": [{"filter": "datum.panel === 'CeO2'"}], "mark": {"type": "point", "shape": "triangle-up", "filled": true, "size": 52, "opacity": 1},
 "encoding": {"x": {"field": "x", "type": "quantitative", "scale": {"domain": [0, 11], "nice": false}, "axis": {"orient": "top", "title": null, "values": [0,2,4,6,8,10], "tickSize": -3}},
  "y": {"field": "y", "type": "quantitative", "scale": {"domain": [0, 25], "nice": false}, "axis": {"orient": "right", "title": null, "values": [0,5,10,15,20,25], "tickSize": -3}},
  "color": {"field": "series", "type": "nominal", "scale": {"domain": ["Administered", "Deposited"], "range": ["#000000", "#ff0000"]}, "legend": {"orient": "none", "legendX": 118.5, "legendY": 8.5, "title": null, "rowPadding": 3.7}}}},
{"data": {"name": "panels"}, "transform": [{"filter": "datum.panel === 'CeO2'"}], "mark": {"type": "rect", "fill": "#ffffff", "stroke": "#000000", "strokeWidth": 1},
 "encoding": {"x": {"datum": 6.86, "type": "quantitative", "scale": {"domain": [0, 11], "nice": false}, "axis": {"orient": "top", "title": null, "values": [1,3,5,7,9], "tickSize": -2}}, "x2": {"datum": 10.83},
  "y": {"datum": 4.15, "type": "quantitative", "scale": {"domain": [0, 25], "nice": false}, "axis": {"orient": "right", "title": null, "values": [2.5,7.5,12.5,17.5,22.5], "tickSize": -2}}, "y2": {"datum": 0.98}}},
{"data": {"name": "panels"}, "transform": [{"filter": "datum.panel === 'CeO2'"}], "mark": {"type": "text", "font": "Liberation Sans", "fontSize": 11, "fontWeight": "bold", "color": "#000000", "align": "center", "baseline": "middle"},
 "encoding": {"x": {"datum": 8.85, "type": "quantitative", "scale": {"domain": [0, 11], "nice": false}, "axis": null}, "y": {"datum": 2.56, "type": "quantitative", "scale": {"domain": [0, 25], "nice": false}, "axis": null}, "text": {"field": "label"}}}
]},
{"width": 210, "height": 153, "resolve": {"axis": {"x": "independent", "y": "independent"}}, "layer": [
{"data": {"name": "curves"}, "transform": [{"filter": "datum.panel === 'Ni Inco'"}], "mark": {"type": "line", "interpolate": "monotone", "strokeWidth": 1.2},
 "encoding": {"x": {"field": "x", "type": "quantitative", "scale": {"domain": [0, 11], "nice": false}, "axis": {"orient": "bottom", "title": "Mass (μg)", "labels": true, "values": [0,2,4,6,8,10], "tickSize": 3, "minExtent": 15.5, "maxExtent": 15.5, "titlePadding": 3}},
  "y": {"field": "y", "type": "quantitative", "scale": {"domain": [0, 50], "nice": false}, "axis": {"orient": "left", "title": "IL-8 (ng/mL)", "labels": true, "values": [0,10,20,30,40,50], "tickSize": 3, "minExtent": 14.5, "maxExtent": 14.5, "titlePadding": 2.5, "labelExpr": "datum.value == 0 ? '' : datum.label"}},
  "stroke": {"field": "series", "type": "nominal", "scale": {"range": ["#000000", "#ff0000"]}, "legend": null}}},
{"data": {"name": "points"}, "transform": [{"filter": "datum.panel === 'Ni Inco'"}], "mark": {"type": "rule", "strokeWidth": 1},
 "encoding": {"x": {"field": "x", "type": "quantitative", "scale": {"domain": [0, 11], "nice": false}, "axis": {"orient": "bottom", "title": null, "values": [0,2,4,6,8,10], "tickSize": -3}},
  "y": {"field": "lo", "type": "quantitative", "scale": {"domain": [0, 50], "nice": false}, "axis": {"orient": "left", "title": null, "values": [0,10,20,30,40,50], "tickSize": -3}},
  "y2": {"field": "hi"},
  "stroke": {"field": "series", "type": "nominal", "scale": {"range": ["#000000", "#ff0000"]}, "legend": null}}},
{"data": {"name": "points"}, "transform": [{"filter": "datum.panel === 'Ni Inco'"}, {"fold": ["lo", "hi"], "as": ["end", "v"]}], "mark": {"type": "point", "shape": "M-1,0L1,0", "size": 16, "filled": false, "opacity": 1, "strokeWidth": 1},
 "encoding": {"x": {"field": "x", "type": "quantitative", "scale": {"domain": [0, 11], "nice": false}, "axis": {"orient": "bottom", "title": null, "values": [1,3,5,7,9], "tickSize": -2}},
  "y": {"field": "v", "type": "quantitative", "scale": {"domain": [0, 50], "nice": false}, "axis": {"orient": "left", "title": null, "values": [5,15,25,35,45], "tickSize": -2}},
  "stroke": {"field": "series", "type": "nominal", "scale": {"range": ["#000000", "#ff0000"]}, "legend": null}}},
{"data": {"name": "points"}, "transform": [{"filter": "datum.panel === 'Ni Inco'"}], "mark": {"type": "point", "shape": "triangle-up", "filled": true, "size": 52, "opacity": 1},
 "encoding": {"x": {"field": "x", "type": "quantitative", "scale": {"domain": [0, 11], "nice": false}, "axis": {"orient": "top", "title": null, "values": [0,2,4,6,8,10], "tickSize": -3}},
  "y": {"field": "y", "type": "quantitative", "scale": {"domain": [0, 50], "nice": false}, "axis": {"orient": "right", "title": null, "values": [0,10,20,30,40,50], "tickSize": -3}},
  "color": {"field": "series", "type": "nominal", "scale": {"domain": ["Administered", "Deposited"], "range": ["#000000", "#ff0000"]}, "legend": {"orient": "none", "legendX": 7.5, "legendY": 3.5, "title": null, "rowPadding": 2.7}}}},
{"data": {"name": "panels"}, "transform": [{"filter": "datum.panel === 'Ni Inco'"}], "mark": {"type": "rect", "fill": "#ffffff", "stroke": "#000000", "strokeWidth": 1},
 "encoding": {"x": {"datum": 6.55, "type": "quantitative", "scale": {"domain": [0, 11], "nice": false}, "axis": {"orient": "top", "title": null, "values": [1,3,5,7,9], "tickSize": -2}}, "x2": {"datum": 10.53},
  "y": {"datum": 7.75, "type": "quantitative", "scale": {"domain": [0, 50], "nice": false}, "axis": {"orient": "right", "title": null, "values": [5,15,25,35,45], "tickSize": -2}}, "y2": {"datum": 2.84}}},
{"data": {"name": "panels"}, "transform": [{"filter": "datum.panel === 'Ni Inco'"}], "mark": {"type": "text", "font": "Liberation Sans", "fontSize": 11, "fontWeight": "bold", "color": "#000000", "align": "center", "baseline": "middle"},
 "encoding": {"x": {"datum": 8.54, "type": "quantitative", "scale": {"domain": [0, 11], "nice": false}, "axis": null}, "y": {"datum": 5.3, "type": "quantitative", "scale": {"domain": [0, 50], "nice": false}, "axis": null}, "text": {"field": "label"}}}
]}
], "spacing": 10, "resolve": {"scale": {"color": "independent", "stroke": "independent"}, "legend": {"color": "independent"}}},
{"hconcat": [
{"width": 208, "height": 153, "resolve": {"axis": {"x": "independent", "y": "independent"}}, "layer": [
{"data": {"name": "curves"}, "transform": [{"filter": "datum.panel === 'MnOx PALAS'"}], "mark": {"type": "line", "interpolate": "monotone", "strokeWidth": 1.2},
 "encoding": {"x": {"field": "x", "type": "quantitative", "scale": {"domain": [0, 11], "nice": false}, "axis": {"orient": "bottom", "title": "Mass (μg)", "labels": true, "values": [0,2,4,6,8,10], "tickSize": 3, "minExtent": 15.5, "maxExtent": 15.5, "titlePadding": 3}},
  "y": {"field": "y", "type": "quantitative", "scale": {"domain": [0, 50], "nice": false}, "axis": {"orient": "left", "title": "IL-8 (ng/mL)", "labels": true, "values": [0,10,20,30,40,50], "tickSize": 3, "minExtent": 14.5, "maxExtent": 14.5, "titlePadding": 2.5}},
  "stroke": {"field": "series", "type": "nominal", "scale": {"range": ["#000000", "#ff0000"]}, "legend": null}}},
{"data": {"name": "points"}, "transform": [{"filter": "datum.panel === 'MnOx PALAS'"}], "mark": {"type": "rule", "strokeWidth": 1},
 "encoding": {"x": {"field": "x", "type": "quantitative", "scale": {"domain": [0, 11], "nice": false}, "axis": {"orient": "bottom", "title": null, "values": [0,2,4,6,8,10], "tickSize": -3}},
  "y": {"field": "lo", "type": "quantitative", "scale": {"domain": [0, 50], "nice": false}, "axis": {"orient": "left", "title": null, "values": [0,10,20,30,40,50], "tickSize": -3}},
  "y2": {"field": "hi"},
  "stroke": {"field": "series", "type": "nominal", "scale": {"range": ["#000000", "#ff0000"]}, "legend": null}}},
{"data": {"name": "points"}, "transform": [{"filter": "datum.panel === 'MnOx PALAS'"}, {"fold": ["lo", "hi"], "as": ["end", "v"]}], "mark": {"type": "point", "shape": "M-1,0L1,0", "size": 16, "filled": false, "opacity": 1, "strokeWidth": 1},
 "encoding": {"x": {"field": "x", "type": "quantitative", "scale": {"domain": [0, 11], "nice": false}, "axis": {"orient": "bottom", "title": null, "values": [1,3,5,7,9], "tickSize": -2}},
  "y": {"field": "v", "type": "quantitative", "scale": {"domain": [0, 50], "nice": false}, "axis": {"orient": "left", "title": null, "values": [5,15,25,35,45], "tickSize": -2}},
  "stroke": {"field": "series", "type": "nominal", "scale": {"range": ["#000000", "#ff0000"]}, "legend": null}}},
{"data": {"name": "points"}, "transform": [{"filter": "datum.panel === 'MnOx PALAS'"}], "mark": {"type": "point", "shape": "triangle-up", "filled": true, "size": 52, "opacity": 1},
 "encoding": {"x": {"field": "x", "type": "quantitative", "scale": {"domain": [0, 11], "nice": false}, "axis": {"orient": "top", "title": null, "values": [0,2,4,6,8,10], "tickSize": -3}},
  "y": {"field": "y", "type": "quantitative", "scale": {"domain": [0, 50], "nice": false}, "axis": {"orient": "right", "title": null, "values": [0,10,20,30,40,50], "tickSize": -3}},
  "color": {"field": "series", "type": "nominal", "scale": {"domain": ["Administered", "Deposited"], "range": ["#000000", "#ff0000"]}, "legend": {"orient": "none", "legendX": 128.5, "legendY": 10.2, "title": null, "rowPadding": 3}}}},
{"data": {"name": "panels"}, "transform": [{"filter": "datum.panel === 'MnOx PALAS'"}], "mark": {"type": "rect", "fill": "#ffffff", "stroke": "#000000", "strokeWidth": 1},
 "encoding": {"x": {"datum": 6.24, "type": "quantitative", "scale": {"domain": [0, 11], "nice": false}, "axis": {"orient": "top", "title": null, "values": [1,3,5,7,9], "tickSize": -2}}, "x2": {"datum": 10.53},
  "y": {"datum": 7.57, "type": "quantitative", "scale": {"domain": [0, 50], "nice": false}, "axis": {"orient": "right", "title": null, "values": [5,15,25,35,45], "tickSize": -2}}, "y2": {"datum": 2.63}}},
{"data": {"name": "panels"}, "transform": [{"filter": "datum.panel === 'MnOx PALAS'"}], "mark": {"type": "text", "font": "Liberation Sans", "fontSize": 11, "fontWeight": "bold", "color": "#000000", "align": "center", "baseline": "middle"},
 "encoding": {"x": {"datum": 8.38, "type": "quantitative", "scale": {"domain": [0, 11], "nice": false}, "axis": null}, "y": {"datum": 5.1, "type": "quantitative", "scale": {"domain": [0, 50], "nice": false}, "axis": null}, "text": {"field": "label"}}}
]},
{"width": 210, "height": 153, "resolve": {"axis": {"x": "independent", "y": "independent"}}, "layer": [
{"data": {"name": "curves"}, "transform": [{"filter": "datum.panel === 'nAg'"}], "mark": {"type": "line", "interpolate": "monotone", "strokeWidth": 1.2},
 "encoding": {"x": {"field": "x", "type": "quantitative", "scale": {"domain": [0, 11], "nice": false}, "axis": {"orient": "bottom", "title": "Mass (μg)", "labels": true, "values": [0,2,4,6,8,10], "tickSize": 3, "minExtent": 15.5, "maxExtent": 15.5, "titlePadding": 3}},
  "y": {"field": "y", "type": "quantitative", "scale": {"domain": [0, 25], "nice": false}, "axis": {"orient": "left", "title": "IL-8 (ng/mL)", "labels": true, "values": [0,5,10,15,20,25], "tickSize": 3, "minExtent": 14.5, "maxExtent": 14.5, "titlePadding": 2.5}},
  "stroke": {"field": "series", "type": "nominal", "scale": {"range": ["#000000", "#ff0000"]}, "legend": null}}},
{"data": {"name": "points"}, "transform": [{"filter": "datum.panel === 'nAg'"}], "mark": {"type": "rule", "strokeWidth": 1},
 "encoding": {"x": {"field": "x", "type": "quantitative", "scale": {"domain": [0, 11], "nice": false}, "axis": {"orient": "bottom", "title": null, "values": [0,2,4,6,8,10], "tickSize": -3}},
  "y": {"field": "lo", "type": "quantitative", "scale": {"domain": [0, 25], "nice": false}, "axis": {"orient": "left", "title": null, "values": [0,5,10,15,20,25], "tickSize": -3}},
  "y2": {"field": "hi"},
  "stroke": {"field": "series", "type": "nominal", "scale": {"range": ["#000000", "#ff0000"]}, "legend": null}}},
{"data": {"name": "points"}, "transform": [{"filter": "datum.panel === 'nAg'"}, {"fold": ["lo", "hi"], "as": ["end", "v"]}], "mark": {"type": "point", "shape": "M-1,0L1,0", "size": 16, "filled": false, "opacity": 1, "strokeWidth": 1},
 "encoding": {"x": {"field": "x", "type": "quantitative", "scale": {"domain": [0, 11], "nice": false}, "axis": {"orient": "bottom", "title": null, "values": [1,3,5,7,9], "tickSize": -2}},
  "y": {"field": "v", "type": "quantitative", "scale": {"domain": [0, 25], "nice": false}, "axis": {"orient": "left", "title": null, "values": [2.5,7.5,12.5,17.5,22.5], "tickSize": -2}},
  "stroke": {"field": "series", "type": "nominal", "scale": {"range": ["#000000", "#ff0000"]}, "legend": null}}},
{"data": {"name": "points"}, "transform": [{"filter": "datum.panel === 'nAg'"}], "mark": {"type": "point", "shape": "triangle-up", "filled": true, "size": 52, "opacity": 1},
 "encoding": {"x": {"field": "x", "type": "quantitative", "scale": {"domain": [0, 11], "nice": false}, "axis": {"orient": "top", "title": null, "values": [0,2,4,6,8,10], "tickSize": -3}},
  "y": {"field": "y", "type": "quantitative", "scale": {"domain": [0, 25], "nice": false}, "axis": {"orient": "right", "title": null, "values": [0,5,10,15,20,25], "tickSize": -3}},
  "color": {"field": "series", "type": "nominal", "scale": {"domain": ["Administered", "Deposited"], "range": ["#000000", "#ff0000"]}, "legend": {"orient": "none", "legendX": 128, "legendY": 10.2, "title": null, "rowPadding": 3}}}},
{"data": {"name": "panels"}, "transform": [{"filter": "datum.panel === 'nAg'"}], "mark": {"type": "rect", "fill": "#ffffff", "stroke": "#000000", "strokeWidth": 1},
 "encoding": {"x": {"datum": 6.58, "type": "quantitative", "scale": {"domain": [0, 11], "nice": false}, "axis": {"orient": "top", "title": null, "values": [1,3,5,7,9], "tickSize": -2}}, "x2": {"datum": 10.53},
  "y": {"datum": 3.95, "type": "quantitative", "scale": {"domain": [0, 25], "nice": false}, "axis": {"orient": "right", "title": null, "values": [2.5,7.5,12.5,17.5,22.5], "tickSize": -2}}, "y2": {"datum": 1.59}}},
{"data": {"name": "panels"}, "transform": [{"filter": "datum.panel === 'nAg'"}], "mark": {"type": "text", "font": "Liberation Sans", "fontSize": 11, "fontWeight": "bold", "color": "#000000", "align": "center", "baseline": "middle"},
 "encoding": {"x": {"datum": 8.55, "type": "quantitative", "scale": {"domain": [0, 11], "nice": false}, "axis": null}, "y": {"datum": 2.77, "type": "quantitative", "scale": {"domain": [0, 25], "nice": false}, "axis": null}, "text": {"field": "label"}}}
]}
], "spacing": 10, "resolve": {"scale": {"color": "independent", "stroke": "independent"}, "legend": {"color": "independent"}}}
], "spacing": 8.3, "resolve": {"scale": {"color": "independent", "stroke": "independent"}, "legend": {"color": "independent"}}}
],
"config": {
"font": "Liberation Sans",
"view": {"stroke": "#000000", "strokeWidth": 1},
"axis": {"domain": false, "grid": false, "labels": false, "labelFont": "Liberation Sans", "labelFontSize": 9, "labelFontWeight": "bold", "labelColor": "#000000", "labelFlush": false, "labelOverlap": false, "tickColor": "#000000", "tickWidth": 1, "titleFont": "Liberation Sans", "titleFontWeight": "bold", "titleColor": "#000000", "minExtent": 0, "maxExtent": 0},
"axisX": {"labelPadding": 3.5, "titleFontSize": 12},
"axisY": {"labelPadding": 1.5, "titleFontSize": 13},
"legend": {"labelFont": "Liberation Sans", "labelFontSize": 9, "labelFontWeight": "bold", "labelColor": "#000000", "symbolType": "triangle-up", "symbolSize": 52, "symbolStrokeWidth": 0, "labelOffset": 9, "padding": 0}
}
}
